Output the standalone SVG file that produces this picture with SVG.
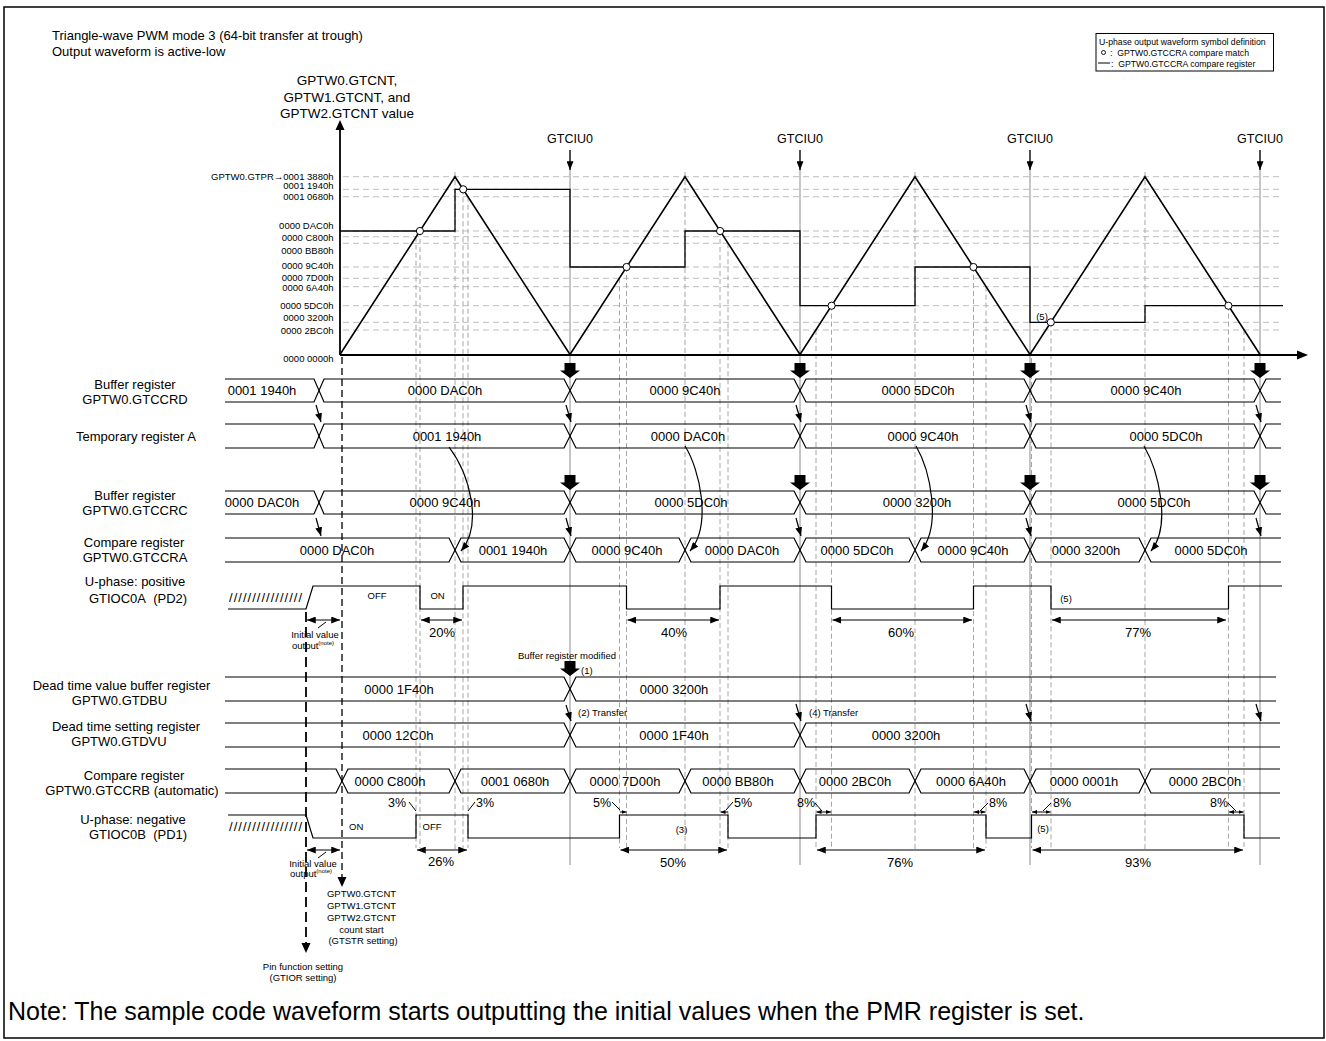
<svg xmlns="http://www.w3.org/2000/svg" width="1326" height="1041" viewBox="0 0 1326 1041">
<style>
text{font-family:"Liberation Sans",Arial,sans-serif;fill:#000}
.lbl{font-size:13px;text-anchor:middle}
.val{font-size:13px;text-anchor:middle}
.ax{font-size:9.5px;text-anchor:end}
.sm{font-size:9.5px}
.smc{font-size:9.5px;text-anchor:middle}
.lg{font-size:8.7px}
.pc{font-size:13px;text-anchor:middle}
.pcs{font-size:12.5px;text-anchor:middle}
.row{fill:none;stroke:#000;stroke-width:1.2}
.hd{stroke:#bdbdbd;stroke-width:1;stroke-dasharray:6,4}
.vd{stroke:#a6a6a6;stroke-width:1;stroke-dasharray:5,3}
.vs{stroke:#8c8c8c;stroke-width:1}
.ln{stroke:#000;stroke-width:1;fill:none}
.dim{stroke:#000;stroke-width:1.2;marker-start:url(#ah);marker-end:url(#ah)}
.dims{stroke:#000;stroke-width:1;marker-start:url(#ahs);marker-end:url(#ahs)}
.arr{stroke:#000;stroke-width:1.2;fill:none;marker-end:url(#ah)}
</style>
<defs>
<marker id="ah" viewBox="0 0 10 8" refX="10" refY="4" markerWidth="9" markerHeight="7" markerUnits="userSpaceOnUse" orient="auto-start-reverse"><path d="M0,0 L10,4 L0,8 Z" fill="#000"/></marker>
<marker id="ahs" viewBox="0 0 10 8" refX="10" refY="4" markerWidth="5" markerHeight="4.5" markerUnits="userSpaceOnUse" orient="auto-start-reverse"><path d="M0,0 L10,4 L0,8 Z" fill="#000"/></marker>
<path id="big" d="M-5.5,-15 H5.5 V-7.5 H10 L0,0 L-10,-7.5 H-5.5 Z" fill="#000"/>
</defs>
<rect x="4" y="7" width="1320" height="1031" fill="#fff" stroke="#000" stroke-width="1.5"/>

<g id="title">
<text x="52" y="39.5" style="font-size:13px">Triangle-wave PWM mode 3 (64-bit transfer at trough)</text>
<text x="52" y="56" style="font-size:13px">Output waveform is active-low</text>
</g>

<g id="legend">
<rect x="1096" y="33.5" width="177.5" height="37.5" fill="#fff" stroke="#000" stroke-width="1"/>
<text x="1099" y="44.5" class="lg">U-phase output waveform symbol definition</text>
<circle cx="1103.5" cy="52.5" r="2" fill="#fff" stroke="#000" stroke-width="0.9"/>
<text x="1110" y="55.5" class="lg" xml:space="preserve">:  GPTW0.GTCCRA compare match</text>
<line x1="1098" y1="63" x2="1110" y2="63" class="ln"/>
<text x="1111" y="66.5" class="lg" xml:space="preserve">:  GPTW0.GTCCRA compare register</text>
</g>

<g id="grid">
<line x1="343" y1="176.7" x2="1283" y2="176.7" class="hd"/>
<line x1="343" y1="189.3" x2="1283" y2="189.3" class="hd"/>
<line x1="343" y1="196.7" x2="1283" y2="196.7" class="hd"/>
<line x1="343" y1="231" x2="1283" y2="231" class="hd"/>
<line x1="343" y1="236.7" x2="1283" y2="236.7" class="hd"/>
<line x1="343" y1="243.3" x2="1283" y2="243.3" class="hd"/>
<line x1="343" y1="267" x2="1283" y2="267" class="hd"/>
<line x1="343" y1="278.3" x2="1283" y2="278.3" class="hd"/>
<line x1="343" y1="286.7" x2="1283" y2="286.7" class="hd"/>
<line x1="343" y1="305.7" x2="1283" y2="305.7" class="hd"/>
<line x1="343" y1="322.3" x2="1283" y2="322.3" class="hd"/>
<line x1="343" y1="330" x2="1283" y2="330" class="hd"/>
</g>

<g id="vlines">
<line x1="416" y1="236.7" x2="416" y2="848" class="vd"/>
<line x1="420" y1="231" x2="420" y2="848" class="vd"/>
<line x1="455" y1="172" x2="455" y2="852" class="vd"/>
<line x1="463" y1="189.3" x2="463" y2="848" class="vd"/>
<line x1="468" y1="196.7" x2="468" y2="848" class="vd"/>
<line x1="619.5" y1="278.3" x2="619.5" y2="848" class="vd"/>
<line x1="626.5" y1="267" x2="626.5" y2="848" class="vd"/>
<line x1="685" y1="172" x2="685" y2="852" class="vd"/>
<line x1="720" y1="231" x2="720" y2="848" class="vd"/>
<line x1="728" y1="243.3" x2="728" y2="848" class="vd"/>
<line x1="816" y1="330" x2="816" y2="848" class="vd"/>
<line x1="831.5" y1="305.7" x2="831.5" y2="848" class="vd"/>
<line x1="915" y1="172" x2="915" y2="852" class="vd"/>
<line x1="973.5" y1="267" x2="973.5" y2="848" class="vd"/>
<line x1="986" y1="286.7" x2="986" y2="848" class="vd"/>
<line x1="1031.5" y1="350" x2="1031.5" y2="848" class="vd"/>
<line x1="1051" y1="322.3" x2="1051" y2="848" class="vd"/>
<line x1="1145" y1="172" x2="1145" y2="852" class="vd"/>
<line x1="1228.5" y1="305.7" x2="1228.5" y2="848" class="vd"/>
<line x1="1244" y1="330" x2="1244" y2="848" class="vd"/>
<line x1="570" y1="150" x2="570" y2="865" class="vs"/>
<line x1="800" y1="150" x2="800" y2="865" class="vs"/>
<line x1="1030" y1="150" x2="1030" y2="865" class="vs"/>
<line x1="1260" y1="150" x2="1260" y2="865" class="vs"/>
</g>

<g id="axes">
<text x="347" y="85" style="font-size:13.5px;text-anchor:middle">GPTW0.GTCNT,</text>
<text x="347" y="101.5" style="font-size:13.5px;text-anchor:middle">GPTW1.GTCNT, and</text>
<text x="347" y="118" style="font-size:13.5px;text-anchor:middle">GPTW2.GTCNT value</text>
<line x1="340" y1="355" x2="340" y2="128" stroke="#000" stroke-width="1.8"/>
<polygon points="340,120 335.5,130 344.5,130" fill="#000"/>
<line x1="340" y1="355" x2="1298" y2="355" stroke="#000" stroke-width="1.8"/>
<polygon points="1308,355 1297,350.5 1297,359.5" fill="#000"/>
<text x="333.5" y="179.5" class="ax">GPTW0.GTPR→0001 3880h</text>
<text x="333.5" y="188.5" class="ax">0001 1940h</text>
<text x="333.5" y="200" class="ax">0001 0680h</text>
<text x="333.5" y="229" class="ax">0000 DAC0h</text>
<text x="333.5" y="241" class="ax">0000 C800h</text>
<text x="333.5" y="253.5" class="ax">0000 BB80h</text>
<text x="333.5" y="268.5" class="ax">0000 9C40h</text>
<text x="333.5" y="280.5" class="ax">0000 7D00h</text>
<text x="333.5" y="291" class="ax">0000 6A40h</text>
<text x="333.5" y="308.5" class="ax">0000 5DC0h</text>
<text x="333.5" y="320.8" class="ax">0000 3200h</text>
<text x="333.5" y="333.5" class="ax">0000 2BC0h</text>
<text x="333.5" y="361.8" class="ax">0000 0000h</text>
</g>

<g id="gtciu0">
<text x="570" y="142.5" style="font-size:12.5px;text-anchor:middle">GTCIU0</text>
<text x="800" y="142.5" style="font-size:12.5px;text-anchor:middle">GTCIU0</text>
<text x="1030" y="142.5" style="font-size:12.5px;text-anchor:middle">GTCIU0</text>
<text x="1260" y="142.5" style="font-size:12.5px;text-anchor:middle">GTCIU0</text>
</g>

<g id="counter">
<path d="M340,354.5 L455,176.7 L570,354.5 L685,176.7 L800,354.5 L915,176.7 L1030,354.5 L1145,176.7 L1260,354.5" fill="none" stroke="#000" stroke-width="1.6" stroke-linejoin="miter"/>
<path d="M340,231 H455 V189.3 H570 V267 H685 V231 H800 V305.7 H915 V267 H1030 V322.3 H1145 V305.7 H1283" fill="none" stroke="#000" stroke-width="1.3"/>
<g fill="#fff" stroke="#000" stroke-width="1">
<circle cx="419.9" cy="231" r="3.6"/>
<circle cx="463.2" cy="189.3" r="3.6"/>
<circle cx="626.6" cy="267" r="3.6"/>
<circle cx="720.1" cy="231" r="3.6"/>
<circle cx="831.6" cy="305.7" r="3.6"/>
<circle cx="973.4" cy="267" r="3.6"/>
<circle cx="1050.8" cy="322.3" r="3.6"/>
<circle cx="1228.4" cy="305.7" r="3.6"/>
</g>
<text x="1042" y="319.5" class="smc">(5)</text>
</g>

<g id="labels">
<text x="135" y="388.5" class="lbl">Buffer register</text>
<text x="135" y="403.5" class="lbl">GPTW0.GTCCRD</text>
<text x="136" y="440.5" class="lbl">Temporary register A</text>
<text x="135" y="499.5" class="lbl">Buffer register</text>
<text x="135" y="514.5" class="lbl">GPTW0.GTCCRC</text>
<text x="134" y="547" class="lbl">Compare register</text>
<text x="135" y="562" class="lbl">GPTW0.GTCCRA</text>
<text x="135" y="586" class="lbl">U-phase: positive</text>
<text x="138" y="603" class="lbl">GTIOC0A&#160; (PD2)</text>
<text x="121.5" y="689.5" class="lbl">Dead time value buffer register</text>
<text x="119.5" y="704.5" class="lbl">GPTW0.GTDBU</text>
<text x="126" y="731" class="lbl">Dead time setting register</text>
<text x="119" y="745.5" class="lbl">GPTW0.GTDVU</text>
<text x="134" y="779.5" class="lbl">Compare register</text>
<text x="132" y="794.5" class="lbl">GPTW0.GTCCRB (automatic)</text>
<text x="133" y="824" class="lbl">U-phase: negative</text>
<text x="138" y="839" class="lbl">GTIOC0B&#160; (PD1)</text>
</g>

<g id="row-gtccrd">
<path class="row" d="M225,379 H314 L324,402 H564 L576,379 H794 L806,402 H1024 L1036,379 H1254 L1266,402 H1281"/>
<path class="row" d="M225,402 H314 L324,379 H564 L576,402 H794 L806,379 H1024 L1036,402 H1254 L1266,379 H1281"/>
<text x="262" y="395" class="val">0001 1940h</text>
<text x="445" y="395" class="val">0000 DAC0h</text>
<text x="685" y="395" class="val">0000 9C40h</text>
<text x="918" y="395" class="val">0000 5DC0h</text>
<text x="1146" y="395" class="val">0000 9C40h</text>
</g>

<g id="row-tempA">
<path class="row" d="M225,424 H314 L324,448 H564 L576,424 H794 L806,448 H1024 L1036,424 H1254 L1266,448 H1281"/>
<path class="row" d="M225,448 H314 L324,424 H564 L576,448 H794 L806,424 H1024 L1036,448 H1254 L1266,424 H1281"/>
<text x="447" y="440.5" class="val">0001 1940h</text>
<text x="688" y="440.5" class="val">0000 DAC0h</text>
<text x="923" y="440.5" class="val">0000 9C40h</text>
<text x="1166" y="440.5" class="val">0000 5DC0h</text>
</g>

<g id="row-gtccrc">
<path class="row" d="M225,491 H314 L324,514 H564 L576,491 H794 L806,514 H1024 L1036,491 H1254 L1266,514 H1281"/>
<path class="row" d="M225,514 H314 L324,491 H564 L576,514 H794 L806,491 H1024 L1036,514 H1254 L1266,491 H1281"/>
<text x="262" y="507" class="val">0000 DAC0h</text>
<text x="445" y="507" class="val">0000 9C40h</text>
<text x="691" y="507" class="val">0000 5DC0h</text>
<text x="917" y="507" class="val">0000 3200h</text>
<text x="1154" y="507" class="val">0000 5DC0h</text>
</g>

<g id="row-gtccra">
<path class="row" d="M225,538 H449 L461,562 H564 L576,538 H679 L691,562 H794 L806,538 H909 L921,562 H1024 L1036,538 H1139 L1151,562 H1281"/>
<path class="row" d="M225,562 H449 L461,538 H564 L576,562 H679 L691,538 H794 L806,562 H909 L921,538 H1024 L1036,562 H1139 L1151,538 H1281"/>
<text x="337" y="554.5" class="val">0000 DAC0h</text>
<text x="513" y="554.5" class="val">0001 1940h</text>
<text x="627" y="554.5" class="val">0000 9C40h</text>
<text x="742" y="554.5" class="val">0000 DAC0h</text>
<text x="857" y="554.5" class="val">0000 5DC0h</text>
<text x="973" y="554.5" class="val">0000 9C40h</text>
<text x="1086" y="554.5" class="val">0000 3200h</text>
<text x="1211" y="554.5" class="val">0000 5DC0h</text>
</g>

<g id="wave-gtioc0a">
<text x="229" y="602" style="font-size:13px" textLength="73" lengthAdjust="spacing">////////////////</text>
<path class="row" d="M228,609 H306 L313,586 H420 V609 H463 V586 H626.5 V609 H720 V586 H831.5 V609 H973.5 V586 H1051 V609 H1228.5 V586 H1282"/>
<text x="377" y="598.5" class="smc">OFF</text>
<text x="437.5" y="598.5" class="smc">ON</text>
<text x="1066" y="601.5" class="smc">(5)</text>
<line x1="307" y1="620" x2="340" y2="620" class="dim"/>
<line x1="421" y1="620" x2="462" y2="620" class="dim"/>
<line x1="627.5" y1="620" x2="719" y2="620" class="dim"/>
<line x1="832.5" y1="620" x2="972" y2="620" class="dim"/>
<line x1="1052" y1="620" x2="1226" y2="620" class="dim"/>
<text x="442" y="637" class="pc">20%</text>
<text x="674" y="637" class="pc">40%</text>
<text x="901" y="637" class="pc">60%</text>
<text x="1138" y="637" class="pc">77%</text>
<text x="315" y="638" class="smc">Initial value</text>
<text x="313" y="648.5" class="smc">output<tspan style="font-size:6px" dy="-4">(note)</tspan></text>
<line x1="318" y1="628" x2="326" y2="622" class="ln"/>
</g>

<g id="row-gtdbu">
<path class="row" d="M225,677 H564 L576,701 H1276"/>
<path class="row" d="M225,701 H564 L576,677 H1276"/>
<text x="399" y="693.5" class="val">0000 1F40h</text>
<text x="674" y="693.5" class="val">0000 3200h</text>
</g>

<g id="row-gtdvu">
<path class="row" d="M225,723 H564 L576,747 H794 L806,723 H1280"/>
<path class="row" d="M225,747 H564 L576,723 H794 L806,747 H1280"/>
<text x="398" y="739.5" class="val">0000 12C0h</text>
<text x="674" y="739.5" class="val">0000 1F40h</text>
<text x="906" y="739.5" class="val">0000 3200h</text>
</g>

<g id="row-gtccrb">
<path class="row" d="M225,769 H336 L348,793 H449 L461,769 H564 L576,793 H679 L691,769 H794 L806,793 H909 L921,769 H1024 L1036,793 H1139 L1151,769 H1280"/>
<path class="row" d="M225,793 H336 L348,769 H449 L461,793 H564 L576,769 H679 L691,793 H794 L806,769 H909 L921,793 H1024 L1036,769 H1139 L1151,793 H1280"/>
<text x="390" y="785.5" class="val">0000 C800h</text>
<text x="515" y="785.5" class="val">0001 0680h</text>
<text x="625" y="785.5" class="val">0000 7D00h</text>
<text x="738" y="785.5" class="val">0000 BB80h</text>
<text x="855" y="785.5" class="val">0000 2BC0h</text>
<text x="971" y="785.5" class="val">0000 6A40h</text>
<text x="1084" y="785.5" class="val">0000 0001h</text>
<text x="1205" y="785.5" class="val">0000 2BC0h</text>
</g>

<g id="wave-gtioc0b">
<text x="229" y="831" style="font-size:13px" textLength="73" lengthAdjust="spacing">////////////////</text>
<path class="row" d="M228,815 H306 L313,838 H416 V815 H468 V838 H619.5 V815 H728 V838 H816 V815 H986 V838 H1031.5 V815 H1244 V838 H1280"/>
<text x="349" y="830" class="sm">ON</text>
<text x="432" y="830" class="smc">OFF</text>
<text x="681.5" y="832.5" class="smc">(3)</text>
<text x="1043" y="831.5" class="smc">(5)</text>
<text x="397" y="807" class="pcs">3%</text>
<line x1="409" y1="802" x2="416" y2="811" class="ln"/>
<text x="485" y="807" class="pcs">3%</text>
<line x1="468" y1="811" x2="475" y2="802" class="ln"/>
<text x="602" y="807" class="pcs">5%</text>
<line x1="612" y1="802" x2="620" y2="810" class="ln"/>
<line x1="620" y1="812" x2="626.5" y2="812" stroke="#000" stroke-width="1" marker-end="url(#ahs)"/>
<text x="743" y="807" class="pcs">5%</text>
<line x1="733" y1="802" x2="726" y2="810" class="ln"/>
<line x1="728" y1="812" x2="720.5" y2="812" stroke="#000" stroke-width="1" marker-end="url(#ahs)"/>
<text x="806" y="807" class="pcs">8%</text>
<line x1="815" y1="803" x2="822" y2="811" class="ln"/>
<line x1="816.5" y1="812" x2="831" y2="812" class="dims"/>
<text x="998" y="807" class="pcs">8%</text>
<line x1="980" y1="811" x2="988" y2="803" class="ln"/>
<line x1="974" y1="812" x2="985.5" y2="812" class="dims"/>
<text x="1062" y="807" class="pcs">8%</text>
<line x1="1043" y1="811" x2="1051" y2="803" class="ln"/>
<line x1="1032" y1="812" x2="1050.5" y2="812" class="dims"/>
<text x="1219" y="807" class="pcs">8%</text>
<line x1="1228" y1="803" x2="1236" y2="811" class="ln"/>
<line x1="1229" y1="812" x2="1243.5" y2="812" class="dims"/>
<line x1="307" y1="850" x2="340" y2="850" class="dim"/>
<line x1="417" y1="850" x2="467" y2="850" class="dim"/>
<line x1="620.5" y1="850" x2="727" y2="850" class="dim"/>
<line x1="817" y1="850" x2="985" y2="850" class="dim"/>
<line x1="1032.5" y1="850" x2="1243" y2="850" class="dim"/>
<text x="441" y="866" class="pc">26%</text>
<text x="673" y="867" class="pc">50%</text>
<text x="900" y="867" class="pc">76%</text>
<text x="1138" y="867" class="pc">93%</text>
<text x="313" y="866.5" class="smc">Initial value</text>
<text x="311" y="877" class="smc">output<tspan style="font-size:6px" dy="-4">(note)</tspan></text>
<line x1="318" y1="858" x2="326" y2="852" class="ln"/>
</g>

<g id="connectors">
<line x1="570" y1="150" x2="570" y2="170" class="arr"/>
<line x1="800" y1="150" x2="800" y2="170" class="arr"/>
<line x1="1030" y1="150" x2="1030" y2="170" class="arr"/>
<line x1="1260" y1="150" x2="1260" y2="170" class="arr"/>
<use href="#big" x="570" y="378"/>
<use href="#big" x="800" y="378"/>
<use href="#big" x="1030" y="378"/>
<use href="#big" x="1260" y="378"/>
<use href="#big" x="570" y="490"/>
<use href="#big" x="800" y="490"/>
<use href="#big" x="1030" y="490"/>
<use href="#big" x="1260" y="490"/>
<use href="#big" x="570" y="676"/>
<line x1="316" y1="405" x2="321" y2="422" class="arr"/>
<line x1="566" y1="405" x2="571" y2="422" class="arr"/>
<line x1="796" y1="405" x2="801" y2="422" class="arr"/>
<line x1="1026" y1="405" x2="1031" y2="422" class="arr"/>
<line x1="1256" y1="405" x2="1261" y2="422" class="arr"/>
<line x1="316" y1="518" x2="321" y2="536" class="arr"/>
<line x1="566" y1="518" x2="571" y2="536" class="arr"/>
<line x1="796" y1="518" x2="801" y2="536" class="arr"/>
<line x1="1026" y1="518" x2="1031" y2="536" class="arr"/>
<line x1="1256" y1="518" x2="1261" y2="536" class="arr"/>
<line x1="566" y1="705" x2="571" y2="721" class="arr"/>
<line x1="796" y1="704" x2="801" y2="721" class="arr"/>
<line x1="1026" y1="704" x2="1031" y2="721" class="arr"/>
<line x1="1256" y1="704" x2="1261" y2="721" class="arr"/>
<path d="M449,447 C470,475 483,525 461,551" class="arr"/>
<path d="M685,446 C700,470 712,525 690,551" class="arr"/>
<path d="M916,446 C930,470 942,525 921,551" class="arr"/>
<path d="M1144,446 C1158,470 1172,525 1151,551" class="arr"/>
<line x1="342" y1="357" x2="342" y2="878" stroke="#000" stroke-width="1.3" stroke-dasharray="7,4"/>
<polygon points="342,887 337.5,877 346.5,877" fill="#000"/>
<line x1="306" y1="612" x2="306" y2="944" stroke="#000" stroke-width="1.8" stroke-dasharray="10,5"/>
<polygon points="306,953 301.5,943 310.5,943" fill="#000"/>
</g>

<g id="annotations">
<text x="567" y="658.5" class="smc">Buffer register modified</text>
<text x="581" y="673.5" class="sm">(1)</text>
<text x="578" y="715.5" class="sm">(2) Transfer</text>
<text x="809" y="715.5" class="sm">(4) Transfer</text>
<text x="361.5" y="897" class="smc">GPTW0.GTCNT</text>
<text x="361.5" y="908.5" class="smc">GPTW1.GTCNT</text>
<text x="361.5" y="920.5" class="smc">GPTW2.GTCNT</text>
<text x="361.5" y="932.5" class="smc">count start</text>
<text x="363" y="944" class="smc">(GTSTR setting)</text>
<text x="303" y="969.5" class="smc">Pin function setting</text>
<text x="303" y="981" class="smc">(GTIOR setting)</text>
<text x="8" y="1020" style="font-size:25px">Note: The sample code waveform starts outputting the initial values when the PMR register is set.</text>
</g>
</svg>
